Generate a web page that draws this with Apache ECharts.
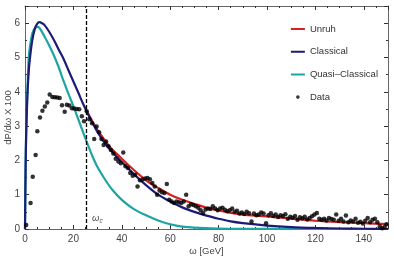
<!DOCTYPE html>
<html><head><meta charset="utf-8">
<script src="https://cdn.jsdelivr.net/npm/echarts@6/dist/echarts.min.js"></script>
<style>html,body{margin:0;padding:0;background:#fff}#c{width:394px;height:263px}</style>
</head><body><div id="c"></div>
<script>
// ---- data ----
const xTicks = [0, 20, 40, 60, 80, 100, 120, 140];
const yTicks = [0, 1, 2, 3, 4, 5, 6];
const omegaC = 25.5;

const classicalX = [0,0.25,0.5,1,1.5,2,3,4,5,6,7,8,10,12,14,16,18,20,22,24,26,28,30,33,36,40,45,50,55,60,65,70,75,80,85,90,100,110,120,130,140,150];
const classicalY = [0,1.8,2.8,3.9,4.55,4.95,5.5,5.82,5.98,6.03,6.0,5.95,5.75,5.5,5.22,4.95,4.62,4.3,3.98,3.65,3.35,3.08,2.82,2.5,2.25,1.95,1.6,1.28,1.0,0.8,0.63,0.5,0.39,0.3,0.22,0.17,0.1,0.055,0.03,0.015,0.008,0.004];

const unruhX = [25.5,28,30,35,40,45,50,55,60,65,70,75,80,85,90,100,110,120,130,140,150];
const unruhY = [3.45,3.12,2.88,2.4,2.05,1.72,1.42,1.2,1.0,0.85,0.73,0.62,0.54,0.47,0.42,0.37,0.3,0.24,0.2,0.17,0.14];

const quasiX = [0,0.25,0.5,1,1.5,2,3,4,5,6,8,10,12,14,16,18,20,22,24,26,28,30,33,36,40,45,50,55,60,65,70,80,90,100,150];
const quasiY = [0,1.8,2.9,4.05,4.95,5.3,5.7,5.85,5.89,5.86,5.62,5.35,5.05,4.7,4.3,3.93,3.58,3.2,2.82,2.45,2.1,1.8,1.45,1.15,0.85,0.58,0.4,0.25,0.14,0.07,0.04,0.015,0.005,0.002,0];

const dataX = [0.5,2.3,3.2,4.4,5.1,6.2,7.2,8.2,9.2,10.2,11.3,12.3,13.3,14.3,15.3,16.4,17.3,18.3,19.4,20.3,21.4,22.4,23.5,24.4,25.5,26.6,27.7,28.6,29.6,30.6,31.6,32.5,33.5,34.5,35.5,36.5,37.5,38.6,39.6,40.6,41.5,42.5,43.5,44.5,45.5,46.5,47.5,48.6,49.6,50.6,51.6,52.6,53.6,54.6,55.6,56.6,57.6,58.6,59.6,60.6,61.6,62.6,63.6,64.6,65.6,66.6,67.6,68.6,69.6,70.6,71.6,72.6,73.6,74.6,75.6,76.6,77.6,78.6,79.6,80.6,81.6,82.6,83.6,84.6,85.6,86.6,87.6,88.6,89.6,90.6,91.6,92.6,93.6,94.6,95.6,96.6,97.6,98.6,99.6,100.6,101.6,102.6,103.6,104.6,105.6,106.6,107.6,108.6,109.6,110.6,111.6,112.6,113.6,114.6,115.6,116.6,117.6,118.6,119.6,120.6,121.6,122.6,123.6,124.6,125.6,126.6,127.6,128.6,129.6,130.6,131.6,132.6,133.6,134.6,135.6,136.6,137.6,138.6,139.6,140.6,141.6,142.6,143.6,144.6,145.6,146.6,147.6,148.6,149.4];
const dataY = [0.12,0.76,1.52,2.16,2.85,3.25,3.45,3.57,3.69,3.92,3.85,3.84,3.83,3.82,3.61,3.42,3.62,3.6,3.52,3.51,3.5,3.49,3.29,3.14,3.43,3.2,3.08,2.62,2.99,2.82,2.62,2.45,2.55,2.41,2.3,2.2,2.05,1.97,1.92,2.23,1.83,1.78,1.63,1.55,1.58,1.24,1.42,1.44,1.47,1.49,1.45,1.34,1.24,1.0,1.12,1.07,1.05,1.31,0.85,0.8,0.76,0.8,0.78,0.76,0.8,1.0,0.66,0.72,0.7,0.66,0.62,0.55,0.47,0.57,0.6,0.58,0.66,0.6,0.55,0.6,0.62,0.56,0.52,0.55,0.6,0.5,0.53,0.45,0.48,0.44,0.5,0.46,0.22,0.45,0.4,0.42,0.48,0.45,0.17,0.4,0.46,0.38,0.42,0.35,0.4,0.38,0.43,0.3,0.36,0.33,0.38,0.27,0.34,0.31,0.36,0.28,0.32,0.37,0.42,0.47,0.3,0.27,0.3,0.25,0.32,0.29,0.27,0.42,0.24,0.3,0.22,0.39,0.2,0.25,0.22,0.3,0.18,0.21,0.16,0.24,0.32,0.2,0.27,0.3,0.2,0.08,0.02,0.06,0.14];

const seriesNames = ['Unruh', 'Classical', 'Quasi\u2013Classical', 'Data'];
const colors = {unruh: '#d42020', classical: '#1c1c78', quasi: '#1ea5a3', data: '#000000'};

// ---- build ----
const zip = (xs, ys) => xs.map((x, i) => [x, ys[i]]);
const FONT = 'Liberation Sans';
const txt = '#444';
const lineIcon = 'path://M0,0L0.01,0L0.01,0.01Z M0,5L14,5L14,7L0,7Z M0,12L0.01,12L0.01,12.01Z M14,0L14.01,0L14.01,0.01Z';
const dotIcon = 'path://M0,0L0.01,0L0.01,0.01Z M14,12L14.01,12L14.01,12.01Z M8.8,6A1.8,1.8 0 1 1 5.2,6A1.8,1.8 0 1 1 8.8,6Z';

const xCommon = {type: 'value', min: 0, max: 150, interval: 20,
  axisLine: {show: true, onZero: false, lineStyle: {color: '#666', width: 1}},
  splitLine: {show: false},
  axisTick: {show: true, inside: true, length: 4, lineStyle: {color: '#333'}},
  minorTick: {show: true, splitNumber: 4, length: 2, lineStyle: {color: '#333'}},
};
const yCommon = {type: 'value', min: 0, max: 6.5, interval: 1,
  axisLine: {show: true, onZero: false, lineStyle: {color: '#666', width: 1}},
  splitLine: {show: false},
  axisTick: {show: true, inside: true, length: 4, lineStyle: {color: '#333'}},
  minorTick: {show: true, splitNumber: 2, length: 2, lineStyle: {color: '#333'}},
};

const chart = echarts.init(document.getElementById('c'));
chart.setOption({
  animation: false,
  backgroundColor: '#fff',
  textStyle: {fontFamily: FONT},
  grid: {left: 25, right: 6, top: 6, bottom: 34, containLabel: false, outerBoundsMode: 'none'},
  legend: {
    right: 11, top: 18, orient: 'vertical', itemGap: 10.7,
    itemWidth: 14, itemHeight: 12,
    textStyle: {fontFamily: FONT, fontSize: 9.5, color: '#333'},
    data: [
      {name: seriesNames[0], icon: lineIcon, itemStyle: {color: colors.unruh}},
      {name: seriesNames[1], icon: lineIcon, itemStyle: {color: colors.classical}},
      {name: seriesNames[2], icon: lineIcon, itemStyle: {color: colors.quasi}},
      {name: seriesNames[3], icon: dotIcon, itemStyle: {color: colors.data}}
    ]
  },
  xAxis: [
    Object.assign({}, xCommon, {position: 'bottom',
      name: '\u03c9 [GeV]', nameLocation: 'middle', nameGap: 17, nameMoveOverlap: false,
      nameTextStyle: {fontFamily: FONT, fontSize: 9.5, color: txt},
      axisLabel: {show: true, fontSize: 10, color: txt, margin: 5, fontFamily: FONT,
        formatter: v => xTicks.indexOf(v) >= 0 ? String(v) : ''}}),
    Object.assign({}, xCommon, {position: 'top', axisLabel: {show: false}})
  ],
  yAxis: [
    Object.assign({}, yCommon, {position: 'left',
      name: 'dP/d\u03c9 X 100', nameLocation: 'middle', nameGap: 12, nameRotate: 90, nameMoveOverlap: false,
      nameTextStyle: {fontFamily: FONT, fontSize: 9.5, color: txt},
      axisLabel: {show: true, fontSize: 10, color: txt, margin: 5, fontFamily: FONT,
        formatter: v => yTicks.indexOf(v) >= 0 ? String(v) : ''}}),
    Object.assign({}, yCommon, {position: 'right', axisLabel: {show: false}})
  ],
  series: [
    {name: seriesNames[3], type: 'scatter', data: zip(dataX, dataY), symbolSize: 4.5,
      itemStyle: {color: colors.data}, z: 5},
    {name: seriesNames[2], type: 'line', data: zip(quasiX, quasiY), smooth: 0.3, showSymbol: false,
      lineStyle: {color: colors.quasi, width: 2.2}, itemStyle: {color: colors.quasi}, z: 2,
      markLine: {silent: true, symbol: 'none', animation: false,
        lineStyle: {color: '#000', type: [4, 2], width: 1.3},
        label: {show: false},
        data: [{xAxis: omegaC}]}},
    {name: seriesNames[0], type: 'line', data: zip(unruhX, unruhY), smooth: 0.3, showSymbol: false,
      lineStyle: {color: colors.unruh, width: 2.2}, itemStyle: {color: colors.unruh}, z: 3},
    {name: seriesNames[1], type: 'line', data: zip(classicalX, classicalY), smooth: 0.3, showSymbol: false,
      lineStyle: {color: colors.classical, width: 2.2}, itemStyle: {color: colors.classical}, z: 4},
    {name: 'wc', type: 'scatter', data: [[omegaC + 2.2, 0.3]], symbolSize: 0, silent: true,
      label: {show: true, position: 'right', distance: 0, formatter: '{a|\u03c9}{b|c}',
        rich: {a: {fontSize: 9.5, fontStyle: 'italic', color: '#222', fontFamily: FONT},
               b: {fontSize: 6.5, fontStyle: 'italic', color: '#222', fontFamily: FONT, verticalAlign: 'bottom', padding: [4, 0, 0, 0]}}}}
  ]
});
</script></body></html>
